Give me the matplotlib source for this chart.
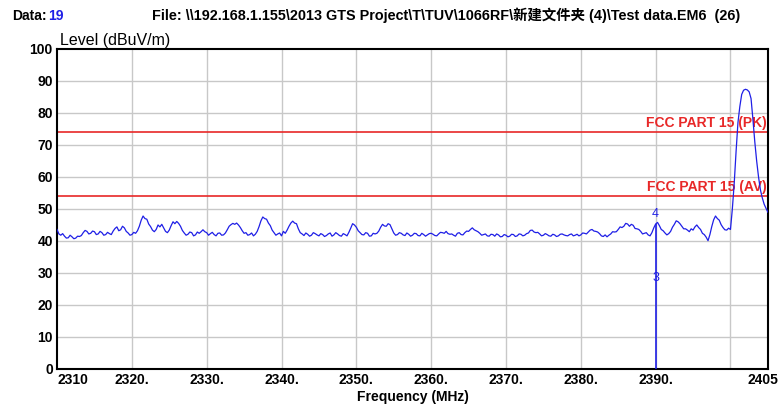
import numpy as np
import matplotlib
matplotlib.use('Agg')
import matplotlib.pyplot as plt
from matplotlib import transforms

plt.rcParams['font.family'] = ['Liberation Sans', 'DejaVu Sans']

# sweep 2310-2400 MHz, 0.25 MHz steps (dBuV/m)
base_freq = np.arange(2310.0, 2400.001, 0.25)
base_level = [
    43.6, 42.2, 41.8, 42.3, 41.5, 40.9, 41.0, 41.8, 41.3, 40.7,
    40.9, 41.5, 41.4, 41.7, 42.6, 43.3, 43.0, 42.2, 42.4, 43.1,
    42.9, 42.0, 42.2, 43.0, 42.6, 41.8, 42.0, 42.7, 42.3, 42.0,
    43.1, 43.9, 44.4, 43.2, 43.5, 44.6, 44.1, 43.0, 42.5, 41.8,
    42.0, 42.7, 42.4, 43.2, 44.6, 46.5, 47.8, 47.0, 46.8, 45.3,
    44.5, 43.4, 42.9, 43.6, 45.0, 44.4, 45.2, 44.1, 43.0, 42.6,
    43.4, 44.8, 46.0, 45.4, 46.1, 45.5, 44.6, 43.3, 42.5, 41.8,
    42.1, 42.8, 42.6, 41.6, 41.9, 42.8, 42.4, 42.9, 43.5, 42.9,
    42.6, 41.8, 42.3, 42.7, 42.0, 41.6, 42.4, 42.5, 41.8, 41.9,
    42.5, 43.5, 44.6, 45.1, 45.5, 45.2, 45.6, 45.0, 44.2, 43.2,
    42.4, 42.6, 41.8, 42.0, 42.5, 41.6, 42.1, 43.0, 44.5, 46.3,
    47.5, 47.0, 46.8, 45.6, 44.8, 43.4, 42.6, 41.8, 42.2, 42.5,
    41.6, 43.0, 42.4, 43.4, 44.6, 45.6, 46.2, 45.6, 45.4, 43.8,
    42.6, 42.2, 41.7, 42.5, 42.1, 41.5, 41.8, 42.6, 42.3, 41.9,
    41.6, 42.3, 42.0, 41.4, 41.7, 42.2, 42.5, 41.5, 41.9, 42.6,
    42.2, 41.7, 41.5, 42.3, 42.0, 41.6, 42.7, 44.0, 45.4, 45.0,
    44.3, 43.2, 42.6, 42.0, 41.9, 42.6, 42.4, 41.5, 41.6, 42.4,
    42.2, 42.4, 43.1, 44.3, 45.2, 44.7, 44.6, 45.4, 45.1, 43.8,
    42.5, 41.8, 42.0, 42.6, 42.4, 41.9, 41.7, 42.5, 42.1, 41.5,
    41.8, 42.4, 42.3, 41.7, 41.6, 42.4, 42.0, 41.5, 41.9, 42.3,
    42.4, 42.1, 41.7, 41.6, 42.2, 42.7, 42.6, 42.4, 43.0, 42.3,
    42.1, 42.2, 41.8, 41.5, 42.4, 42.6, 42.0, 41.9, 42.6, 43.1,
    43.0, 43.6, 44.1, 43.5, 43.2, 42.9, 42.4, 41.8, 42.0, 42.2,
    41.6, 41.5, 42.1, 42.0, 41.5, 42.2, 41.9, 41.3, 41.4, 42.0,
    41.8, 41.3, 41.5, 42.1, 42.0, 41.4, 41.6, 42.2, 42.1, 41.6,
    41.8, 42.3, 42.5, 43.3, 43.4, 42.8, 42.6, 42.7, 42.2, 41.6,
    41.8, 42.3, 42.0, 41.6, 41.5, 42.1, 41.9, 41.4, 41.6, 42.1,
    42.2, 41.9, 41.7, 41.6, 42.0, 42.2, 41.6, 41.8, 42.1, 41.6,
    41.9, 42.5, 42.4, 42.2, 42.8, 43.4, 43.6, 43.1, 43.0, 42.8,
    42.3, 41.6, 41.4, 41.9, 41.3, 41.8, 42.2, 42.9, 42.8, 42.9,
    43.6, 44.4, 44.2, 44.6, 45.5, 45.3, 44.6, 45.2, 44.9, 43.9,
    43.8, 43.6, 43.0, 42.2, 42.4, 42.6, 41.9, 41.6, 42.6, 44.1,
    45.3, 45.8, 44.8, 43.6, 43.2, 42.5, 41.9, 42.3, 43.0, 44.3,
    45.2, 46.3, 46.0, 45.4, 44.6, 43.8, 43.8, 43.4, 42.9, 43.8,
    43.4, 44.4, 45.0, 44.2, 43.6, 42.4, 42.0, 41.2, 40.1, 42.0,
    44.5, 46.6, 47.8, 47.0, 46.5, 45.1, 44.2, 43.5, 43.4, 44.0,
    43.6,
]

# carrier peak at the band edge
peak_freq = [2400.25, 2400.5, 2400.75, 2401.0, 2401.25, 2401.5, 2401.75,
             2402.0, 2402.25, 2402.5, 2402.75, 2403.0, 2403.25, 2403.5,
             2403.75, 2404.0, 2404.25, 2404.5, 2404.75, 2405.0]
peak_level = [50.0, 58.0, 68.0, 77.0, 82.0, 85.8, 87.1,
              87.4, 87.2, 86.6, 84.5, 78.0, 71.0, 65.0,
              60.0, 56.0, 53.5, 51.5, 50.2, 49.0]

freq = np.concatenate([base_freq, peak_freq])
level = np.concatenate([base_level, peak_level])

limits = [74, 54]
limit_names = ['FCC PART 15 (PK)', 'FCC PART 15 (AV)']

marker_freq = 2390.0
marker_level = 45.3

xticks = [2310, 2320, 2330, 2340, 2350, 2360, 2370, 2380, 2390, 2405]
xtick_labels = ['2310', '2320.', '2330.', '2340.', '2350.', '2360.',
                '2370.', '2380.', '2390.', '2405']

blue = '#1f1fe6'
red = '#e82828'

fig = plt.figure(figsize=(7.78, 4.08), dpi=100)
ax = fig.add_axes([0.0733, 0.0956, 0.9137, 0.7844])

ax.set_xlim(2310, 2405)
ax.set_ylim(0, 100)

# grid
for f in range(2320, 2401, 10):
    ax.axvline(f, color='#c8c8c8', lw=1.0, zorder=0)
for y in range(10, 100, 10):
    ax.axhline(y, color='#c8c8c8', lw=1.0, zorder=0)

for lim, name in zip(limits, limit_names):
    ax.axhline(lim, color=red, lw=1.2, zorder=2)
    ax.text(2404.8, lim + 0.6, name, color=red, fontsize=10,
            fontweight='bold', ha='right', va='bottom', zorder=3)

ax.plot(freq, level, color=blue, lw=0.9, zorder=4)
ax.vlines(marker_freq, 0, marker_level, color=blue, lw=1.2, zorder=4)
ax.text(marker_freq, 48.5, '4', color=blue, fontsize=9, ha='center',
        va='center', zorder=5)
ax.text(marker_freq, 28.5, '3', color=blue, fontsize=9, ha='center',
        va='center', zorder=5)

ax.set_yticks(range(0, 101, 10))
ax.set_yticklabels([str(v) for v in range(0, 101, 10)],
                   fontsize=10, fontweight='bold')
ax.set_xticks(xticks)
ax.set_xticklabels(xtick_labels, fontsize=10, fontweight='bold')
ax.tick_params(length=0, pad=3)
labs = ax.get_xticklabels()
labs[0].set_ha('left')
labs[-1].set_transform(labs[-1].get_transform() +
                       transforms.ScaledTranslation(-5 / 100, 0, fig.dpi_scale_trans))

for s in ax.spines.values():
    s.set_linewidth(1.5)
    s.set_color('black')

ax.set_xlabel('Frequency (MHz)', fontsize=10, fontweight='bold', labelpad=2)
fig.text(0.077, 0.883, 'Level (dBuV/m)', fontsize=11.5, ha='left', va='bottom')

fig.text(0.015, 0.962, 'Data:', fontsize=10, fontweight='bold', va='center')
fig.text(0.062, 0.962, '19', fontsize=10, fontweight='bold', color=blue, va='center')
fig.text(0.195, 0.962,
         'File: \\\\192.168.1.155\\2013 GTS Project\\T\\TUV\\1066RF\\新建文件夹 (4)\\Test data.EM6  (26)',
         fontsize=10.35, fontweight='bold', va='center',
         family=['Liberation Sans', 'Noto Sans CJK SC'])

fig.savefig('out.png', dpi=100)
